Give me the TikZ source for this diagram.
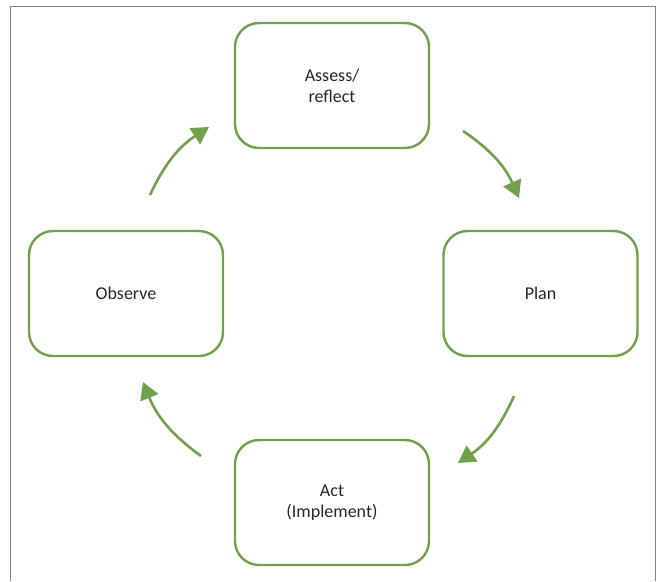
\documentclass[tikz,border=0pt]{standalone}
\usepackage{fontspec}
\setmainfont{Carlito}
\usetikzlibrary{arrows.meta}
\definecolor{boxgreen}{RGB}{115,160,75}
\definecolor{framegray}{RGB}{130,130,130}
\tikzset{
  stepbox/.style={draw=boxgreen, line width=2.4pt, rounded corners=24pt,
    minimum width=194pt, minimum height=125pt, align=center,
    font=\fontsize{18}{21}\selectfont, text=black!85, inner sep=0pt},
  cyclearrow/.style={draw=boxgreen, line width=2.6pt,
    -{Triangle[length=17pt,width=19pt]}, bend left=16}
}
\begin{document}
\begin{tikzpicture}[x=1pt,y=-1pt]
\useasboundingbox (0,0) rectangle (660,581);
\draw[framegray, line width=1pt] (10,581) -- (10,6) -- (655,6) -- (655,581);
\node[stepbox] (assess) at (332,85.5) {Assess/\\reflect};
\node[stepbox] (plan) at (540.5,293.5) {Plan};
\node[stepbox] (act) at (332,502.5) {Act\\(Implement)};
\node[stepbox] (observe) at (126,293.5) {Observe};
\coordinate (a1) at (463,131);
\coordinate (a2) at (519,198);
\coordinate (b1) at (514,396);
\coordinate (b2) at (458,463);
\coordinate (c1) at (201,456);
\coordinate (c2) at (143,382);
\coordinate (d1) at (150,195);
\coordinate (d2) at (209,127);
\draw[cyclearrow] (a1) to (a2);
\draw[cyclearrow] (b1) to (b2);
\draw[cyclearrow] (c1) to (c2);
\draw[cyclearrow] (d1) to (d2);
\end{tikzpicture}
\end{document}
